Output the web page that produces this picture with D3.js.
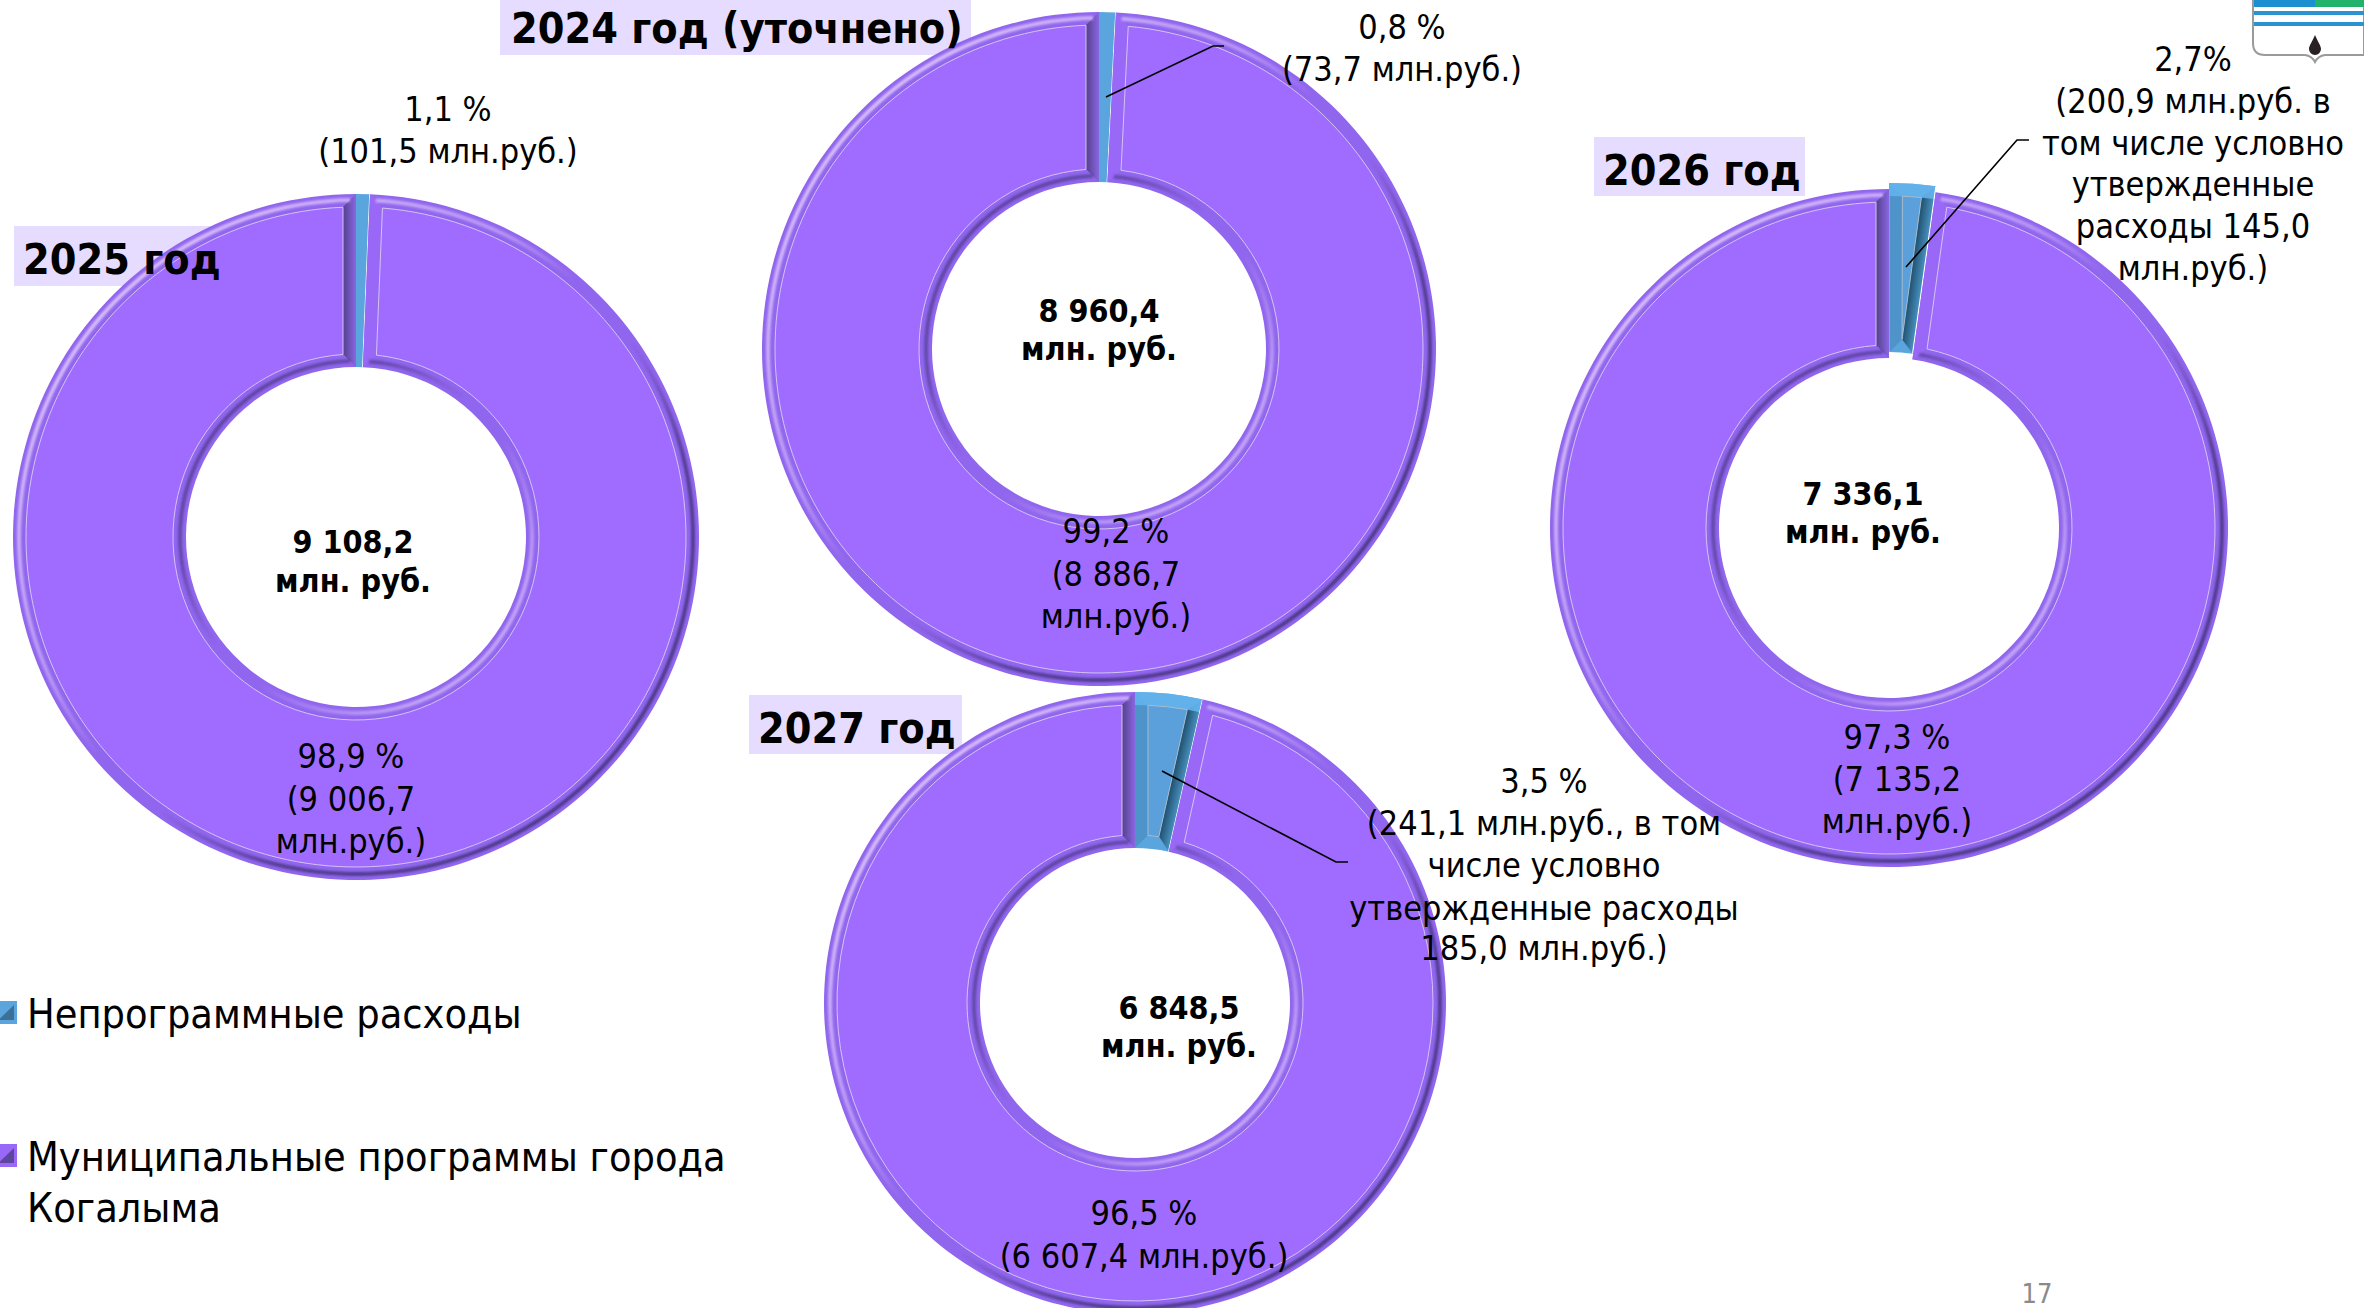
<!DOCTYPE html>
<html lang="ru">
<head>
<meta charset="utf-8">
<script src="https://cdn.jsdelivr.net/npm/d3@7"></script>
<style>
html,body{margin:0;padding:0;background:#fff}
svg{display:block}
text{font-family:"DejaVu Sans Condensed","DejaVu Sans",sans-serif;fill:#000;font-stretch:condensed}
</style>
</head>
<body>
<svg id="c" width="2364" height="1308"></svg>
<script>
// --- data -------------------------------------------------------------
const years        = ["2025 год", "2024 год (уточнено)", "2026 год", "2027 год"];
const seriesNames  = ["Непрограммные расходы", "Муниципальные программы города Когалыма"];
const totals       = ["9 108,2", "8 960,4", "7 336,1", "6 848,5"];
// Wedge shares (%) as measured from the drawn wedges. 2025 and 2026 are drawn
// narrower in the reference than their printed labels (1,1 % and 2,7 %).
const nonProgram   = [0.65, 0.8, 2.2, 3.5];
const programs     = [99.35, 99.2, 97.8, 96.5];
const topLabels    = [
  ["1,1 %", "(101,5 млн.руб.)"],
  ["0,8 %", "(73,7 млн.руб.)"],
  ["2,7%", "(200,9 млн.руб. в", "том числе условно", "утвержденные", "расходы 145,0", "млн.руб.)"],
  ["3,5 %", "(241,1 млн.руб., в том", "числе условно", "утвержденные расходы", "185,0 млн.руб.)"]
];
const ringLabels   = [
  ["98,9 %", "(9 006,7", "млн.руб.)"],
  ["99,2 %", "(8 886,7", "млн.руб.)"],
  ["97,3 %", "(7 135,2", "млн.руб.)"],
  ["96,5 %", "(6 607,4 млн.руб.)"]
];
// --- layout -----------------------------------------------------------
const cxs = [356, 1099, 1889, 1135], cys = [537, 349, 528, 1003];
const outerR = [343, 337, 339, 311], innerR = [170, 167, 170, 155];
const explode = [0, 0, 6, 0];
const bandW = 13;
const titleBox = [[14,226,213,60],[500,0,471,55],[1594,137,211,59],[749,695,213,59]];
const titlePos = [[23,274],[511,43],[1603,185],[758,743]];
const topPos   = [[448,[121,163]],[1402,[39,81]],[2193,[71,113,155,196,238,280]],[1544,[793,835,877,920,960]]];
const ringPos  = [[351,[768,811,853]],[1116,[543,586,628]],[1897,[749,791,833]],[1144,[1225,1268]]];
const totalPos = [[353,[553,592]],[1099,[322,360]],[1863,[505,543]],[1179,[1019,1057]]];
const leaders  = [null,[[1106,97],[1213,46],[1224,46]],[[1906,267],[2017,140],[2029,140]],[[1162,771],[1336,862],[1348,862]]];
const fsLabel = 34, fsTotal = 32, fsTitle = 42.7, fsLegend = 41;

const svg = d3.select("#c");
const defs = svg.append("defs");
const blur = defs.append("filter").attr("id","soft").attr("x","-5%").attr("y","-5%").attr("width","110%").attr("height","110%");
blur.append("feGaussianBlur").attr("stdDeviation",1);

function grad(id, attrs, stops){
  const g = defs.append("linearGradient").attr("id",id);
  Object.entries(attrs).forEach(([k,v])=>g.attr(k,v));
  stops.forEach(s=>g.append("stop").attr("offset",s[0]).attr("stop-color",s[1]).attr("stop-opacity",s[2]===undefined?1:s[2]));
}
const L="#f0dcff", D="#3c2f70";
const outerStops=[[0,L,.75],[.34,L,.4],[.46,L,0],[.58,D,0],[.75,D,.7],[1,D,.8]];
const innerStops=[[0,D,.8],[.35,D,.5],[.47,D,0],[.55,L,0],[.72,L,.5],[1,L,.75]];

// titles go under the rings
svg.append("g").selectAll("rect").data(titleBox).join("rect")
  .attr("x",d=>d[0]).attr("y",d=>d[1]).attr("width",d=>d[2]).attr("height",d=>d[3]).attr("fill","#e6dcff");

const pie = d3.pie().sort(null).value(d=>d);
const styles = [
  {rim:"#5aa5dd",face:"#5b9fdb",line:"#a9bccb",startBand:"#4f93cb",endA:"#1f4f6e",endB:"#4a94c2",top:"#63b2ec"},
  {rim:"#9166ee",face:"#a06cff",line:"#d4c4f2",startBand:"#9a68f6",endA:"#54408c",endB:"#8a66e2",top:null}
];

years.forEach((y,i)=>{
  const R=outerR[i], r=innerR[i];
  const g=svg.append("g").attr("transform",`translate(${cxs[i]},${cys[i]})`);
  const e=R*.72;
  grad(`go${i}`,{gradientUnits:"userSpaceOnUse",x1:-e,y1:-e,x2:e,y2:e},outerStops);
  grad(`gi${i}`,{gradientUnits:"userSpaceOnUse",x1:-e,y1:-e,x2:e,y2:e},innerStops);
  const ring=(ri,ro,inset)=>d3.arc().innerRadius(ri).outerRadius(ro).padRadius(R).padAngle(2*inset/R);
  const pt=(a,rho,off)=>[rho*Math.sin(a)+off*Math.cos(a),-rho*Math.cos(a)+off*Math.sin(a)];
  const poly=d3.line();

  pie([nonProgram[i],programs[i]]).forEach((s,k)=>{
    const st=styles[k];
    const sl=g.append("g");
    if(k===0&&explode[i]){
      const mid=(s.startAngle+s.endAngle)/2;
      sl.attr("transform",`translate(${explode[i]*Math.sin(mid)},${-explode[i]*Math.cos(mid)})`);
    }
    sl.append("path").attr("d",ring(r,R,0)(s)).attr("fill",st.rim);
    const narrow=(s.endAngle-s.startAngle)*R<30;
    if(!narrow){
      // side bevels
      const a0=s.startAngle,a1=s.endAngle;
      sl.append("path").attr("d",poly([pt(a0,R,0),pt(a0,r,0),pt(a0,r+bandW,bandW),pt(a0,R-bandW,bandW)])+"Z").attr("fill",st.startBand);
      const gid=`ge${i}_${k}`;
      const p=pt(a1,(R+r)/2,0),q=pt(a1,(R+r)/2,-bandW);
      grad(gid,{gradientUnits:"userSpaceOnUse",x1:q[0],y1:q[1],x2:p[0],y2:p[1]},[[0,st.endA],[1,st.endB]]);
      sl.append("path").attr("d",poly([pt(a1,R,0),pt(a1,r,0),pt(a1,r+bandW,-bandW),pt(a1,R-bandW,-bandW)])+"Z").attr("fill",`url(#${gid})`);
      if(k===1){
        sl.append("path").attr("d",ring(R-8,R-4,6)(s)).attr("fill",`url(#go${i})`).attr("filter","url(#soft)");
        sl.append("path").attr("d",ring(r+4,r+8,6)(s)).attr("fill",`url(#gi${i})`).attr("filter","url(#soft)");
      } else {
        sl.append("path").attr("d",ring(R-bandW,R,0)(s)).attr("fill",st.top).attr("opacity",.9);
      }
      sl.append("path").attr("d",ring(r+bandW,R-bandW,bandW)(s)).attr("fill",st.face).attr("stroke",st.line).attr("stroke-width",1);
    }
    if(k===0){
      const a=s.endAngle;
      sl.append("path").attr("d",poly([pt(a,R,0),pt(a,r,0)])).attr("stroke","#fff").attr("stroke-width",1.6).attr("fill","none");
    }
  });
});

// leader lines
svg.append("g").selectAll("path").data(leaders.filter(Boolean)).join("path")
  .attr("d",d3.line()).attr("fill","none").attr("stroke","#000").attr("stroke-width",1.6);

// texts
function block(lines,x,ys,fs,weight){
  lines.forEach((t,j)=>svg.append("text").attr("x",x).attr("y",ys[j]).attr("text-anchor","middle")
    .attr("font-size",fs).attr("font-weight",weight||400).text(t));
}
years.forEach((y,i)=>{
  svg.append("text").attr("x",titlePos[i][0]).attr("y",titlePos[i][1]).attr("font-size",fsTitle).attr("font-weight",700).text(y);
  block(topLabels[i],topPos[i][0],topPos[i][1],fsLabel);
  block(ringLabels[i],ringPos[i][0],ringPos[i][1],fsLabel);
  block([totals[i],"млн. руб."],totalPos[i][0],totalPos[i][1],fsTotal,700);
});

// legend
const legendY=[1001,1144];
const legendKeys=[{base:"#5aa5dd",dark:"#33607f"},{base:"#9a68f6",dark:"#4a3a80"}];
legendKeys.forEach((c,k)=>{
  const y0=legendY[k], w=17, h=23;
  svg.append("rect").attr("x",0).attr("y",y0).attr("width",w).attr("height",h).attr("fill",c.base);
  svg.append("path").attr("d",d3.line()([[0,y0+h/2+6],[w-3,y0+4],[w-3,y0+h-4],[0,y0+h-4]])+"Z").attr("fill",c.dark).attr("opacity",.75);
});
svg.append("text").attr("x",27).attr("y",1028).attr("font-size",fsLegend).text(seriesNames[0]);
svg.append("text").attr("x",27).attr("y",1171).attr("font-size",fsLegend).text("Муниципальные программы города");
svg.append("text").attr("x",27).attr("y",1222).attr("font-size",fsLegend).text("Когалыма");

// page number
svg.append("text").attr("x",2037).attr("y",1303).attr("text-anchor","middle").attr("font-size",27).style("fill","#8a8a8a").text("17");

// emblem at the corner
const em=svg.append("g");
const shield="M2253,0 L2253,43 Q2253,55 2265,55 L2305,55 Q2312,56 2315,62 Q2318,56 2325,55 L2364,55 L2364,0 Z";
em.append("path").attr("d",shield).attr("fill","#fff").attr("stroke","#9a9a9a").attr("stroke-width",2);
em.append("rect").attr("x",2254).attr("y",0).attr("width",61).attr("height",7).attr("fill","#1c8fd0");
em.append("rect").attr("x",2315).attr("y",0).attr("width",49).attr("height",7).attr("fill","#22b36a");
[[11,4],[22,4]].forEach(b=>em.append("rect").attr("x",2254).attr("y",b[0]).attr("width",110).attr("height",b[1]).attr("fill","#2c93d3"));
em.append("path").attr("d","M2315,35 C2318,42 2321,46 2321,49 A6,6 0 0 1 2309,49 C2309,46 2312,42 2315,35 Z").attr("fill","#2a1f22");
</script>
</body>
</html>
